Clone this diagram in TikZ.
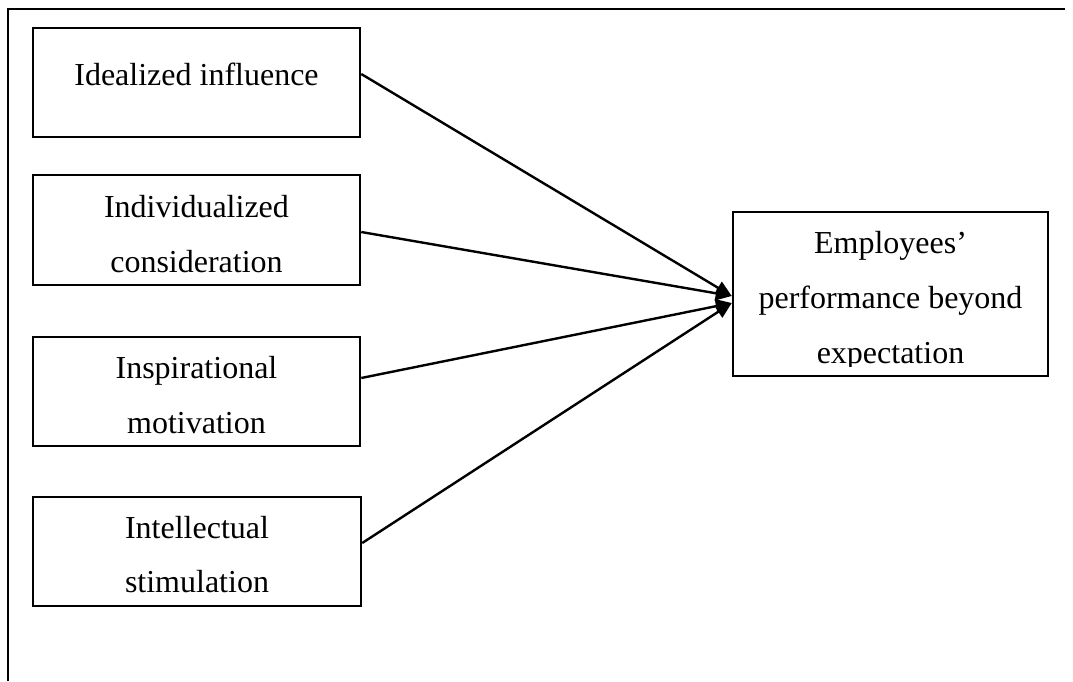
\documentclass[tikz,border=0pt]{standalone}
\usepackage{fontspec}
\setmainfont{Liberation Serif}
\usetikzlibrary{arrows.meta}
\begin{document}
\begin{tikzpicture}[x=1pt,y=-1pt,
  box/.style={draw,line width=2.5pt,rectangle,inner sep=0pt},
  txt/.style={anchor=base,inner sep=0pt,font=\fontsize{32}{38}\selectfont},
  conn/.style={line width=2.4pt,-{Triangle[length=16pt,width=14pt]}}]
\useasboundingbox (0,0) rectangle (1073,681);
\coordinate (fbl) at (8,681);
\coordinate (ftl) at (8,9);
\coordinate (ftr) at (1065,9);
\draw[line width=2.5pt] (fbl) -- (ftl) -- (ftr);
% left boxes
\node[box,minimum width=327pt,minimum height=109pt] (b1) at (196.5,82.5) {};
\node[box,minimum width=327pt,minimum height=110pt] (b2) at (196.5,230) {};
\node[box,minimum width=327pt,minimum height=109pt] (b3) at (196.5,391.5) {};
\node[box,minimum width=328pt,minimum height=109pt] (b4) at (197,551.5) {};
% right box
\node[box,minimum width=315pt,minimum height=164pt] (r) at (890.5,294) {};
% texts
\node[txt] (t1) at (196.5,85) {Idealized influence};
\node[txt] (t2a) at (196.5,217) {Individualized};
\node[txt] (t2b) at (196.5,272) {consideration};
\node[txt] (t3a) at (196.5,378) {Inspirational};
\node[txt] (t3b) at (196.5,433) {motivation};
\node[txt] (t4a) at (197,538) {Intellectual};
\node[txt] (t4b) at (197,592) {stimulation};
\node[txt] (ra) at (890.5,253) {Employees’};
\node[txt] (rb) at (890.5,308) {performance beyond};
\begin{scope}
\clip (733,212) rectangle (1048,366);
\node[txt] (rc) at (890.5,363) {expectation};
\end{scope}
% connectors
\draw[conn] ([yshift=8.5pt]b1.east) -- ([yshift=-2pt]r.west);
\draw[conn] ([yshift=-2pt]b2.east) -- ([yshift=-2pt]r.west);
\draw[conn] ([yshift=13.5pt]b3.east) -- ([yshift=-9pt]r.west);
\draw[conn] ([yshift=8.5pt]b4.east) -- ([yshift=-9pt]r.west);
\end{tikzpicture}
\end{document}
